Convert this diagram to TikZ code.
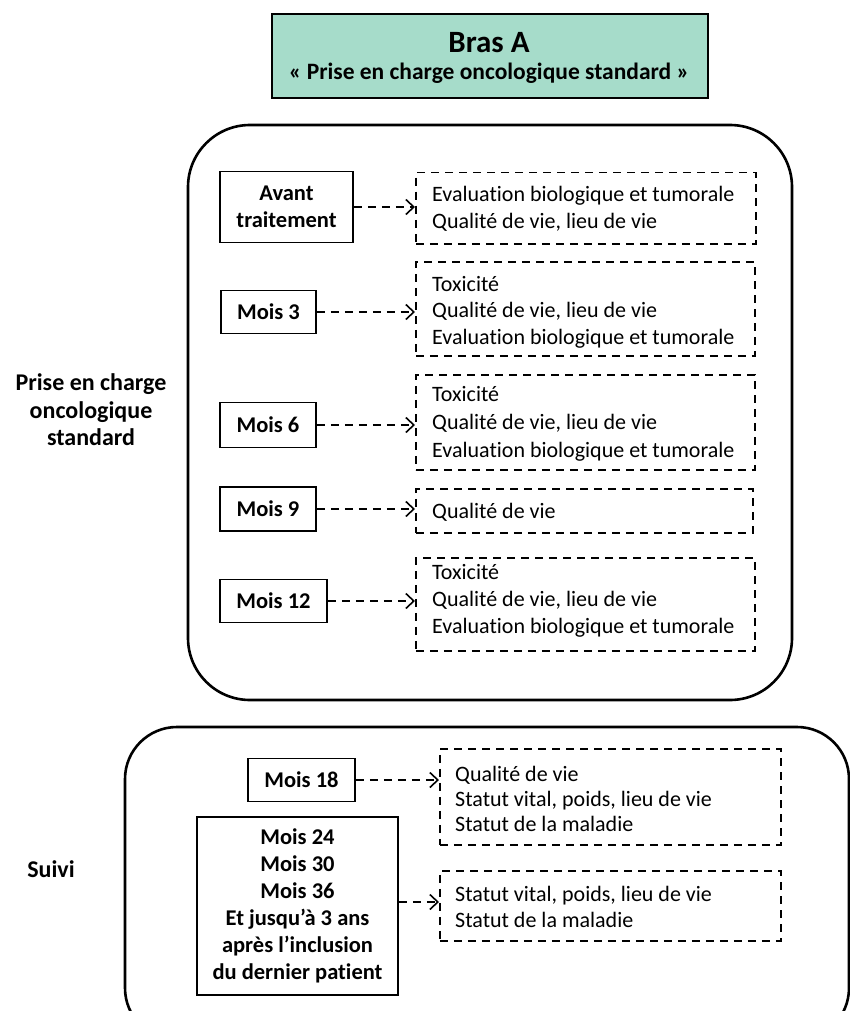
\documentclass[tikz,border=0pt]{standalone}
\usepackage{fontspec}
\setmainfont{Carlito}[Ligatures=NoCommon]
\usetikzlibrary{arrows.meta,calc}
\definecolor{titlegreen}{HTML}{A6DCCA}
\tikzset{
  solidbox/.style={draw=black, line width=1.6pt, font=\bfseries\fontsize{22.5}{27}\selectfont, align=center, inner sep=0pt},
  dashbox/.style={draw=black, line width=1.5pt, dash pattern=on 8pt off 6pt, anchor=north west, inner sep=0pt},
  dtext/.style={font=\fontsize{22}{#1}\selectfont, align=left, anchor=west, inner sep=0pt},
  dtext/.default=27,
  bigbox/.style={draw=black, line width=2.6pt},
  conn/.style={line width=1.7pt, dash pattern=on 8pt off 6pt, -{Straight Barb[length=8pt,width=15pt,line width=1.6pt]}},
  sidelabel/.style={font=\bfseries\fontsize{24}{27.5}\selectfont, align=center}
}
\begin{document}
\begin{tikzpicture}[x=1pt,y=-1pt]
\useasboundingbox (0,0) rectangle (850,1011);
% title
\node[draw=black, line width=2.4pt, fill=titlegreen, minimum width=436pt, minimum height=84pt, anchor=north west, inner sep=0pt] (title) at (271,13) {};
\node[font=\bfseries\fontsize{31}{34}\selectfont] (titleA) at (489,43) {Bras A};
\node[font=\bfseries\fontsize{23.5}{26}\selectfont] (titleB) at (489,73) {« Prise en charge oncologique standard »};
% first big rounded box
\draw[bigbox, rounded corners=62pt] (188,125) rectangle (792,700);
\node[sidelabel] (lab1) at (91,410) {Prise en charge\\oncologique\\standard};
% left boxes
\node[solidbox, minimum width=133pt, minimum height=71pt] (av) at (286.5,207) {Avant\\traitement};
\node[solidbox, minimum width=95pt, minimum height=43pt] (m3) at (268.5,312) {Mois 3};
\node[solidbox, minimum width=96pt, minimum height=45pt] (m6) at (268,425) {Mois 6};
\node[solidbox, minimum width=96pt, minimum height=44pt] (m9) at (268,509) {Mois 9};
\node[solidbox, minimum width=107pt, minimum height=43pt] (m12) at (273.5,601) {Mois 12};
% dashed boxes
\node[dashbox, minimum width=340pt, minimum height=71pt] (d1) at (415,172) {};
\node[dtext=26.5] (t1) at (432,209) {Evaluation biologique et tumorale\\Qualité de vie, lieu de vie};
\node[dashbox, minimum width=339pt, minimum height=94pt] (d2) at (415,261) {};
\node[dtext=26.5] (t2) at (432,312) {Toxicité\\Qualité de vie, lieu de vie\\Evaluation biologique et tumorale};
\node[dashbox, minimum width=339pt, minimum height=95pt] (d3) at (415,374) {};
\node[dtext=28] (t3) at (432,424) {Toxicité\\Qualité de vie, lieu de vie\\Evaluation biologique et tumorale};
\node[dashbox, minimum width=337pt, minimum height=44pt] (d4) at (415,488) {};
\node[dtext] (t4) at (432,512) {Qualité de vie};
\node[dashbox, minimum width=339pt, minimum height=93pt] (d5) at (415,557) {};
\node[dtext] (t5) at (432,601) {Toxicité\\Qualité de vie, lieu de vie\\Evaluation biologique et tumorale};
% connectors
\draw[conn] (av.east) -- (av.east -| d1.west);
\draw[conn] (m3.east) -- (m3.east -| d2.west);
\draw[conn] (m6.east) -- (m6.east -| d3.west);
\draw[conn] (m9.east) -- (m9.east -| d4.west);
\draw[conn] (m12.east) -- (m12.east -| d5.west);
% second big rounded box (clipped)
\begin{scope}
\clip (0,0) rectangle (850,1011);
\draw[bigbox, rounded corners=52pt] (125,727) rectangle (849,1040);
\end{scope}
\node[sidelabel] (lab2) at (51,869) {Suivi};
\node[solidbox, minimum width=107pt, minimum height=43pt] (m18) at (301.5,780) {Mois 18};
\node[solidbox, minimum width=201pt, minimum height=178pt, font=\bfseries\fontsize{22.5}{27}\selectfont] (m24) at (297.5,906) {Mois 24\\Mois 30\\Mois 36\\Et jusqu’à 3 ans\\après l’inclusion\\du dernier patient};
\node[dashbox, minimum width=341pt, minimum height=96pt] (d6) at (439,748) {};
\node[dtext=25] (t6) at (455,799) {Qualité de vie\\Statut vital, poids, lieu de vie\\Statut de la maladie};
\node[dashbox, minimum width=341pt, minimum height=70pt] (d7) at (439,870) {};
\node[dtext=26] (t7) at (455,907) {Statut vital, poids, lieu de vie\\Statut de la maladie};
\draw[conn] (m18.east) -- (m18.east -| d6.west);
\draw[conn] ($(m24.east)+(0,-4)$) -- ($(m24.east -| d7.west)+(0,-4)$);
\end{tikzpicture}
\end{document}
